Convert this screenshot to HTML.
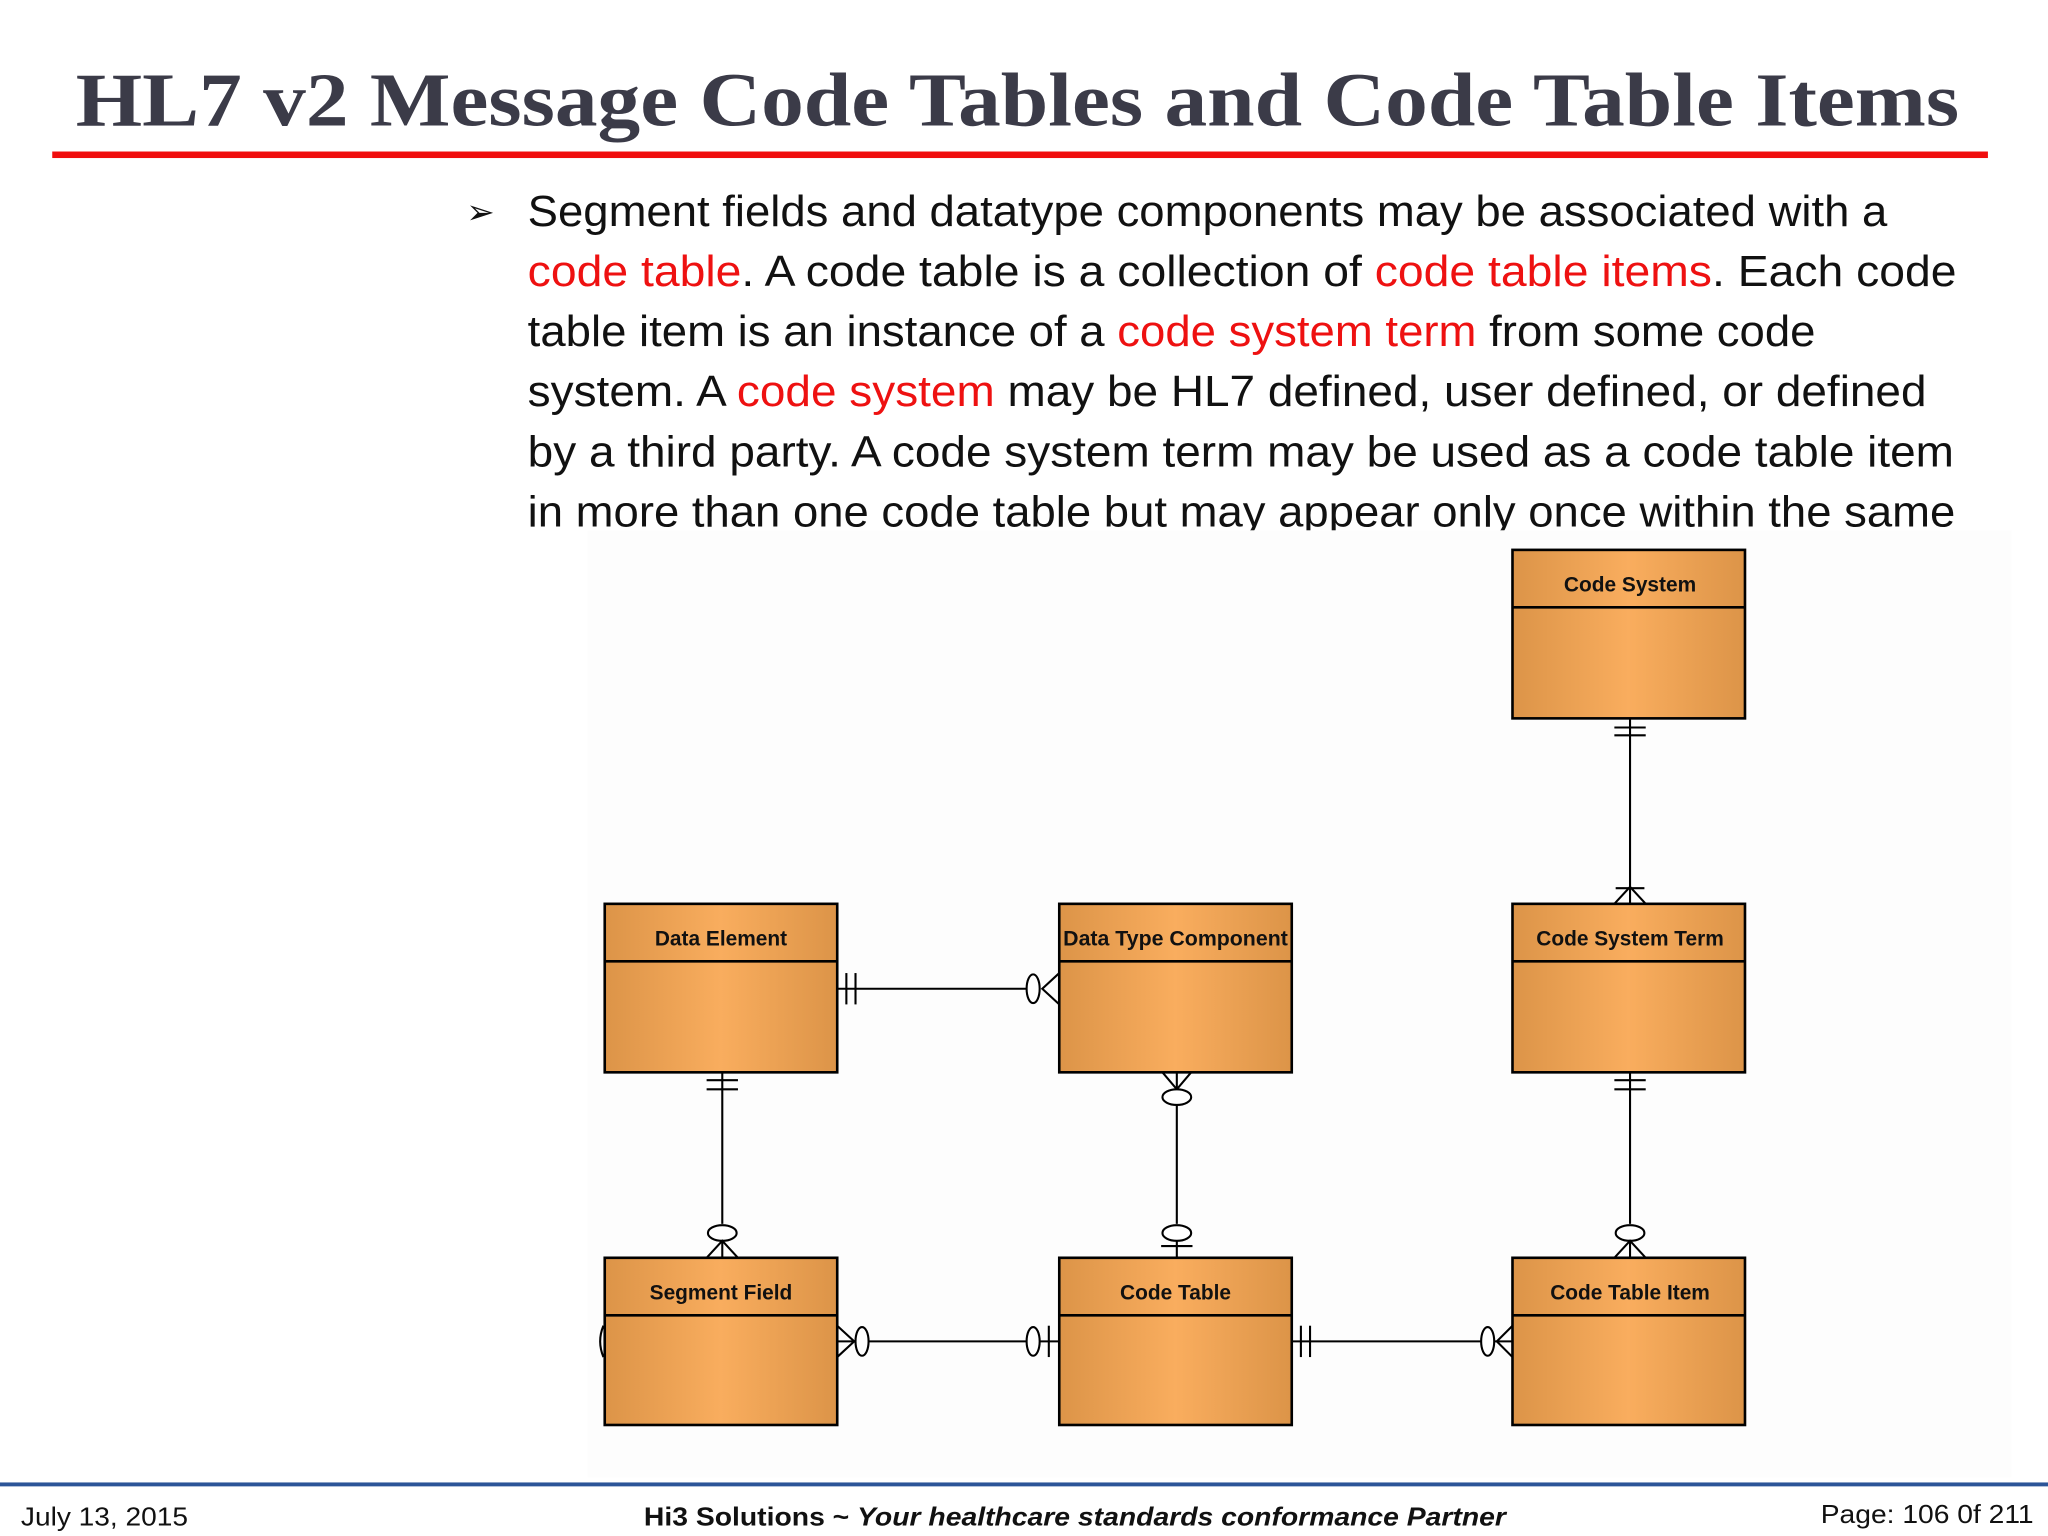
<!DOCTYPE html>
<html><head><meta charset="utf-8"><style>
html,body{margin:0;padding:0;background:#fff;}
svg{display:block;}
</style></head><body>
<svg width="2048" height="1536" viewBox="0 0 1568 1176" preserveAspectRatio="none" xmlns="http://www.w3.org/2000/svg">
<defs>
<linearGradient id="g" x1="0" x2="1" y1="0" y2="0">
<stop offset="0" stop-color="#dc9448"/><stop offset="0.5" stop-color="#f9ad5e"/><stop offset="1" stop-color="#dc9448"/>
</linearGradient>
</defs>
<rect width="1568" height="1176" fill="#fff"/>
<text x="58" y="96" font-family="Liberation Serif, serif" font-weight="bold" font-size="58" fill="#3b3b48" textLength="1442" lengthAdjust="spacingAndGlyphs">HL7 v2 Message Code Tables and Code Table Items</text>
<rect x="40" y="116" width="1482" height="5" fill="#f00d0d"/>
<g font-family="Liberation Sans, sans-serif" font-size="33" fill="#111">
<text x="357" y="171" font-size="26">➢</text>
<text x="404" y="173" textLength="1041" lengthAdjust="spacingAndGlyphs">Segment fields and datatype components may be associated with a</text>
<text x="404" y="219" textLength="1094" lengthAdjust="spacingAndGlyphs"><tspan fill="#ee1111">code table</tspan>.  A code table is a collection of <tspan fill="#ee1111">code table items</tspan>.  Each code</text>
<text x="404" y="265" textLength="986" lengthAdjust="spacingAndGlyphs">table item is an instance of a <tspan fill="#ee1111">code system term</tspan> from some code</text>
<text x="404" y="311" textLength="1071" lengthAdjust="spacingAndGlyphs">system.  A <tspan fill="#ee1111">code system</tspan> may be HL7 defined, user defined, or defined</text>
<text x="404" y="357" textLength="1092" lengthAdjust="spacingAndGlyphs">by a third party.  A code system term may be used as a code table item</text>
<text x="404" y="403" textLength="1093" lengthAdjust="spacingAndGlyphs">in more than one code table but may appear only once within the same</text>
</g>
<rect x="450" y="406" width="1090" height="725" fill="#fdfdfd"/>
<g stroke="#000" stroke-width="2">
<rect x="1158" y="421" width="178" height="129" fill="url(#g)"/><line x1="1158" y1="465" x2="1336" y2="465"/>
<rect x="463" y="692" width="178" height="129" fill="url(#g)"/><line x1="463" y1="736" x2="641" y2="736"/>
<rect x="811" y="692" width="178" height="129" fill="url(#g)"/><line x1="811" y1="736" x2="989" y2="736"/>
<rect x="1158" y="692" width="178" height="129" fill="url(#g)"/><line x1="1158" y1="736" x2="1336" y2="736"/>
<rect x="463" y="963" width="178" height="128" fill="url(#g)"/><line x1="463" y1="1007" x2="641" y2="1007"/>
<rect x="811" y="963" width="178" height="128" fill="url(#g)"/><line x1="811" y1="1007" x2="989" y2="1007"/>
<rect x="1158" y="963" width="178" height="128" fill="url(#g)"/><line x1="1158" y1="1007" x2="1336" y2="1007"/>
</g>
<g font-family="Liberation Sans, sans-serif" font-weight="bold" font-size="16" fill="#111" text-anchor="middle">
<text x="1248" y="453">Code System</text>
<text x="552" y="724">Data Element</text>
<text x="900" y="724" textLength="172" lengthAdjust="spacingAndGlyphs">Data Type Component</text>
<text x="1248" y="724">Code System Term</text>
<text x="552" y="995">Segment Field</text>
<text x="900" y="995">Code Table</text>
<text x="1248" y="995">Code Table Item</text>
</g>
<g stroke="#000" stroke-width="1.6" fill="none">
<!-- CS to CST -->
<line x1="1248" y1="550" x2="1248" y2="692"/>
<line x1="1236" y1="557" x2="1260" y2="557"/><line x1="1236" y1="563" x2="1260" y2="563"/>
<line x1="1237" y1="680" x2="1259" y2="680"/>
<path d="M1236 692 L1248 679 L1260 692"/>
<!-- DE to DTC -->
<line x1="641" y1="757" x2="786" y2="757"/>
<line x1="648" y1="745" x2="648" y2="769"/><line x1="655" y1="745" x2="655" y2="769"/>
<ellipse cx="791" cy="757" rx="5" ry="11" fill="#fff"/>
<path d="M811 745 L798 757 L811 769"/>
<!-- DE to SF -->
<line x1="553" y1="821" x2="553" y2="937"/>
<line x1="541" y1="827" x2="565" y2="827"/><line x1="541" y1="834" x2="565" y2="834"/>
<ellipse cx="553" cy="944" rx="11" ry="6" fill="#fff"/>
<path d="M541 963 L553 950 L565 963"/><line x1="553" y1="950" x2="553" y2="963"/>
<!-- DTC to CT -->
<line x1="901" y1="846" x2="901" y2="937"/>
<path d="M890 821 L901 834 L912 821"/><line x1="901" y1="821" x2="901" y2="834"/>
<ellipse cx="901" cy="840" rx="11" ry="6" fill="#fff"/>
<ellipse cx="901" cy="944" rx="11" ry="6" fill="#fff"/>
<line x1="901" y1="950" x2="901" y2="963"/>
<line x1="889" y1="954" x2="913" y2="954"/>
<!-- CST to CTI -->
<line x1="1248" y1="821" x2="1248" y2="937"/>
<line x1="1236" y1="827" x2="1260" y2="827"/><line x1="1236" y1="834" x2="1260" y2="834"/>
<ellipse cx="1248" cy="944" rx="11" ry="6" fill="#fff"/>
<path d="M1236 963 L1248 950 L1260 963"/><line x1="1248" y1="950" x2="1248" y2="963"/>
<!-- SF to CT -->
<line x1="641" y1="1027" x2="655" y2="1027"/>
<path d="M641 1015 L654 1027 L641 1039"/>
<ellipse cx="660" cy="1027" rx="5" ry="11" fill="#fff"/>
<line x1="665" y1="1027" x2="786" y2="1027"/>
<ellipse cx="791" cy="1027" rx="5" ry="11" fill="#fff"/>
<line x1="796" y1="1027" x2="811" y2="1027"/>
<line x1="803" y1="1015" x2="803" y2="1039"/>
<!-- CT to CTI -->
<line x1="989" y1="1027" x2="1134" y2="1027"/>
<line x1="996" y1="1015" x2="996" y2="1039"/><line x1="1003" y1="1015" x2="1003" y2="1039"/>
<ellipse cx="1139" cy="1027" rx="5" ry="11" fill="#fff"/>
<path d="M1158 1015 L1146 1027 L1158 1039"/><line x1="1144" y1="1027" x2="1158" y2="1027"/>
<path d="M462 1015 Q457 1027 462 1039"/>
</g>
<rect x="0" y="1135" width="1568" height="3" fill="#2c5598"/>
<g font-family="Liberation Sans, sans-serif" font-size="20" fill="#111">
<text x="16" y="1168" textLength="128" lengthAdjust="spacingAndGlyphs">July 13, 2015</text>
<text x="493" y="1168" font-weight="bold" textLength="660" lengthAdjust="spacingAndGlyphs">Hi3 Solutions ~ <tspan font-style="italic">Your healthcare standards conformance Partner</tspan></text>
<text x="1394" y="1166" textLength="163" lengthAdjust="spacingAndGlyphs">Page: 106 0f 211</text>
</g>
</svg>
</body></html>
